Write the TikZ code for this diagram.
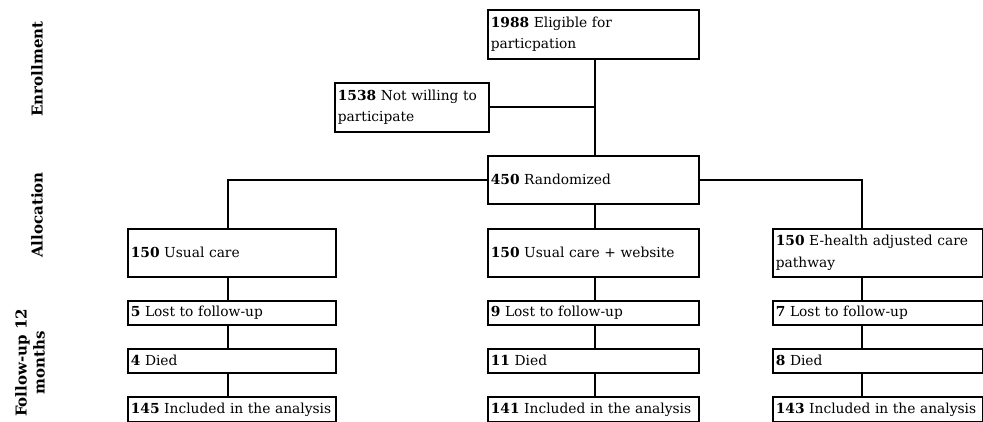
\documentclass[tikz,border=0pt]{standalone}
\usepackage{fontspec}
\setmainfont{DejaVu Serif}
\begin{document}
\begin{tikzpicture}[x=1pt,y=-1pt,
  flowbox/.style={draw,line width=1.6pt,anchor=north west,inner xsep=3pt,
    inner ysep=0pt,align=left,font=\fontsize{13.8}{21.5}\selectfont},
  phase/.style={rotate=90,align=center,font=\bfseries\fontsize{15}{18}\selectfont},
  link/.style={line width=1.6pt}]
  \useasboundingbox (0,0) rectangle (983,422);

  \node[phase] (enroll) at (37,69) {Enrollment};
  \node[phase] (alloc) at (37,215) {Allocation};
  \node[phase] (follow) at (30,363) {Follow-up 12\\months};

  \coordinate (trunk) at (595,0);
  \node[flowbox,text width=205pt,minimum height=49pt] (elig) at (487,9)
    {\textbf{1988} Eligible for\\particpation};
  \node[flowbox,text width=148pt,minimum height=49pt] (notwill) at (334,82)
    {\textbf{1538} Not willing to\\participate};
  \node[flowbox,text width=205pt,minimum height=48pt] (rand) at (487,155)
    {\textbf{450} Randomized};

  \draw[link] (elig.south -| trunk) -- (rand.north -| trunk);
  \draw[link] (notwill.east) -- (notwill.east -| trunk);

  \node[flowbox,text width=202pt,minimum height=48pt] (arma) at (127,228)
    {\textbf{150} Usual care};
  \node[flowbox,text width=205pt,minimum height=48pt] (armb) at (487,228)
    {\textbf{150} Usual care + website};
  \node[flowbox,text width=204pt,minimum height=48pt] (armc) at (772,228)
    {\textbf{150} E-health adjusted care\\pathway};

  \foreach \col/\xl/\xc/\tw/\lost/\died/\incl in
      {a/127/228/202/5/4/145, b/487/595/205/9/11/141, c/772/862/204/7/8/143} {%
    \coordinate (line\col) at (\xc,0);
    \node[flowbox,text width=\tw pt,minimum height=24pt] (lost\col) at (\xl,300)
      {\textbf{\lost} Lost to follow-up};
    \node[flowbox,text width=\tw pt,minimum height=24pt] (died\col) at (\xl,348)
      {\textbf{\died} Died};
    \node[flowbox,text width=\tw pt,minimum height=25pt] (incl\col) at (\xl,396)
      {\textbf{\incl} Included in the analysis};
    \draw[link] (arm\col.south -| line\col) -- (lost\col.north -| line\col);
    \draw[link] (lost\col.south -| line\col) -- (died\col.north -| line\col);
    \draw[link] (died\col.south -| line\col) -- (incl\col.north -| line\col);
  }

  \draw[link] (rand.west) -| (arma.north -| linea);
  \draw[link] (rand.south -| trunk) -- (armb.north -| trunk);
  \draw[link] (rand.east) -| (armc.north -| linec);
\end{tikzpicture}
\end{document}
